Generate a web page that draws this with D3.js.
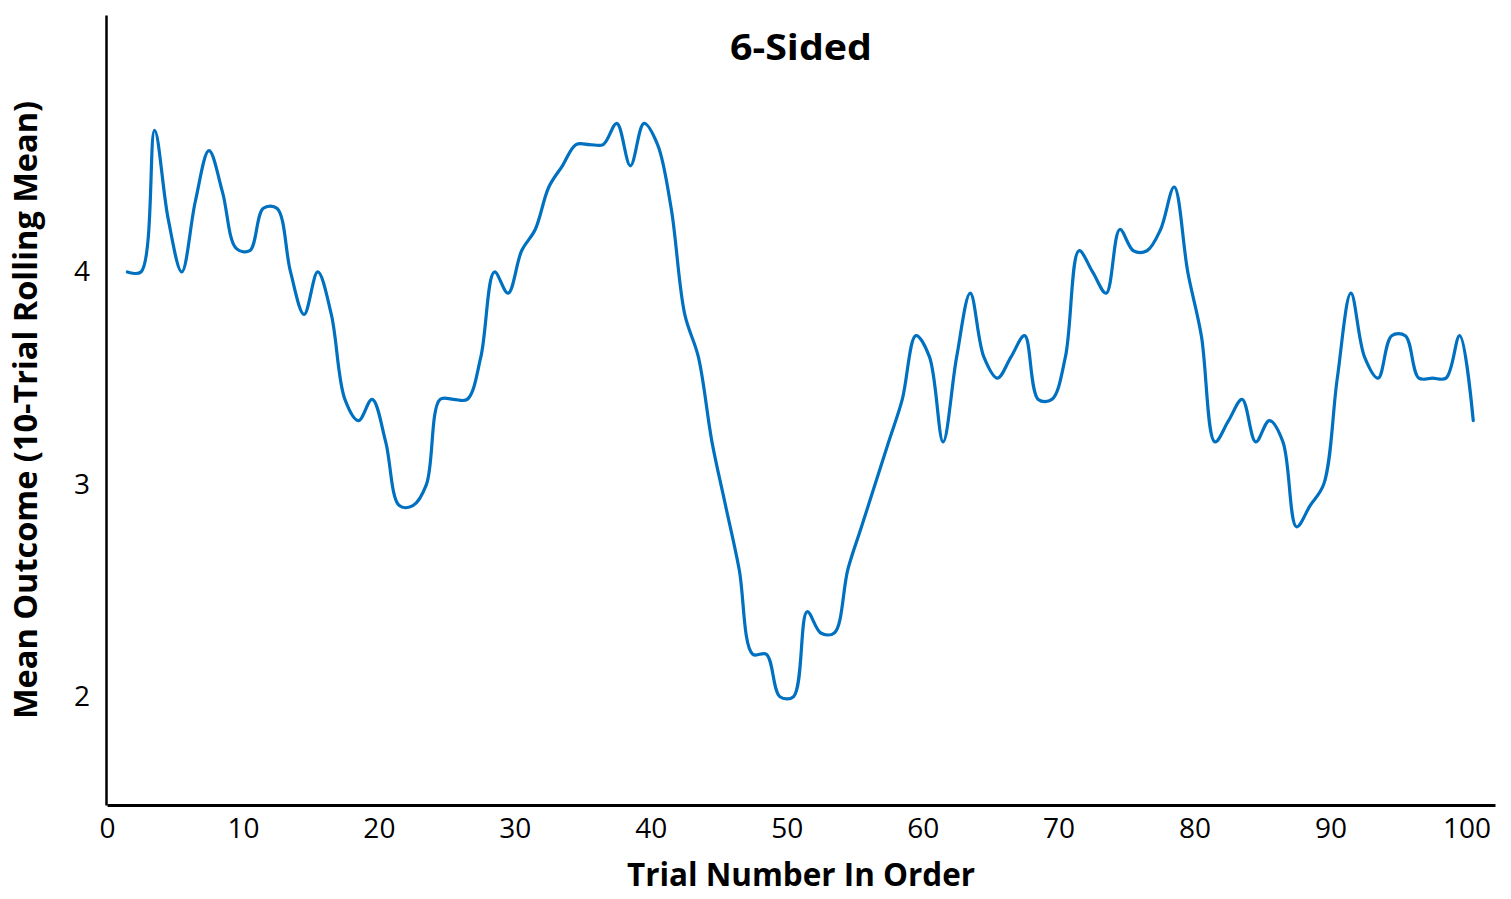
<!DOCTYPE html>
<html>
<head>
<meta charset="utf-8">
<script src="https://cdn.jsdelivr.net/npm/d3@7"></script>
<style>
  html, body { margin: 0; padding: 0; background: #fff; }
  svg { display: block; }
  text { font-family: "Open Sans", "Liberation Sans", sans-serif; fill: #000; }
</style>
</head>
<body>
<svg id="chart" width="1511" height="899"></svg>
<script>
// ---- data ----
const chartTitle = "6-Sided";
const xAxisTitle = "Trial Number In Order";
const yAxisTitle = "Mean Outcome (10-Trial Rolling Mean)";

const trials = [
  1, 2, 3, 4, 5, 6, 7, 8, 9, 10,
  11, 12, 13, 14, 15, 16, 17, 18, 19, 20,
  21, 22, 23, 24, 25, 26, 27, 28, 29, 30,
  31, 32, 33, 34, 35, 36, 37, 38, 39, 40,
  41, 42, 43, 44, 45, 46, 47, 48, 49, 50,
  51, 52, 53, 54, 55, 56, 57, 58, 59, 60,
  61, 62, 63, 64, 65, 66, 67, 68, 69, 70,
  71, 72, 73, 74, 75, 76, 77, 78, 79, 80,
  81, 82, 83, 84, 85, 86, 87, 88, 89, 90,
  91, 92, 93, 94, 95, 96, 97, 98, 99, 100
];

const rollingMean = [
  4.0, 4.0, 4.667, 4.25, 4.0, 4.333, 4.571, 4.375, 4.111, 4.1,
  4.3, 4.3, 4.0, 3.8, 4.0, 3.8, 3.4, 3.3, 3.4, 3.2,
  2.9, 2.9, 3.0, 3.4, 3.4, 3.4, 3.6, 4.0, 3.9, 4.1,
  4.2, 4.4, 4.5, 4.6, 4.6, 4.6, 4.7, 4.5, 4.7, 4.6,
  4.3, 3.8, 3.6, 3.2, 2.9, 2.6, 2.2, 2.2, 2.0, 2.0,
  2.4, 2.3, 2.3, 2.6, 2.8, 3.0, 3.2, 3.4, 3.7, 3.6,
  3.2, 3.6, 3.9, 3.6, 3.5, 3.6, 3.7, 3.4, 3.4, 3.6,
  4.1, 4.0, 3.9, 4.2, 4.1, 4.1, 4.2, 4.4, 4.0, 3.7,
  3.2, 3.3, 3.4, 3.2, 3.3, 3.2, 2.8, 2.9, 3.0, 3.5,
  3.9, 3.6, 3.5, 3.7, 3.7, 3.5, 3.5, 3.5, 3.7, 3.3
];

const xTickValues = [0, 10, 20, 30, 40, 50, 60, 70, 80, 90, 100];
const yTickValues = [2, 3, 4];

// ---- chart ----
const svg = d3.select("#chart");

const x = d3.scaleLinear().domain([0, 102.1]).range([107, 1495]);
const y = d3.scaleLinear().domain([1.49, 5.21]).range([805, 15]);

const points = trials.map((t, i) => ({ trial: t, value: rollingMean[i] }));

// line (points centred in each trial slot)
const line = d3.line()
  .x(d => x(d.trial + 0.5))
  .y(d => y(d.value))
  .curve(d3.curveCatmullRom.alpha(0.5));

svg.append("path")
  .datum(points)
  .attr("fill", "none")
  .attr("stroke", "#0070C0")
  .attr("stroke-width", 3.2)
  .attr("stroke-linejoin", "round")
  .attr("stroke-linecap", "round")
  .attr("d", line);

// x axis
const xAxis = svg.append("g")
  .attr("transform", `translate(0,${y.range()[0]})`)
  .call(d3.axisBottom(x).tickValues(xTickValues).tickSize(0).tickPadding(13).tickFormat(d3.format("d")));
xAxis.select(".domain").attr("stroke", "#000").attr("stroke-width", 3);
xAxis.selectAll("text").style("font-size", "28px").style("font-family", "Open Sans, sans-serif").attr("fill", "#000");

// y axis
const yAxis = svg.append("g")
  .attr("transform", `translate(${x.range()[0] - 1},0)`)
  .call(d3.axisLeft(y).tickValues(yTickValues).tickSize(0).tickPadding(16).tickFormat(d3.format("d")));
yAxis.select(".domain").attr("stroke", "#000").attr("stroke-width", 2.5);
yAxis.selectAll("text").style("font-size", "28px").style("font-family", "Open Sans, sans-serif").attr("fill", "#000");

// title
svg.append("text")
  .attr("x", 801).attr("y", 60)
  .attr("text-anchor", "middle")
  .attr("font-weight", "bold")
  .attr("font-size", 36)
  .attr("textLength", 142)
  .attr("lengthAdjust", "spacingAndGlyphs")
  .text(chartTitle);

// x title
svg.append("text")
  .attr("x", 801).attr("y", 886)
  .attr("text-anchor", "middle")
  .attr("font-weight", "bold")
  .attr("font-size", 32)
  .attr("textLength", 348)
  .attr("lengthAdjust", "spacingAndGlyphs")
  .text(xAxisTitle);

// y title
svg.append("text")
  .attr("transform", "translate(37,410) rotate(-90)")
  .attr("text-anchor", "middle")
  .attr("font-weight", "bold")
  .attr("font-size", 32)
  .attr("textLength", 618)
  .attr("lengthAdjust", "spacingAndGlyphs")
  .text(yAxisTitle);
</script>
</body>
</html>
